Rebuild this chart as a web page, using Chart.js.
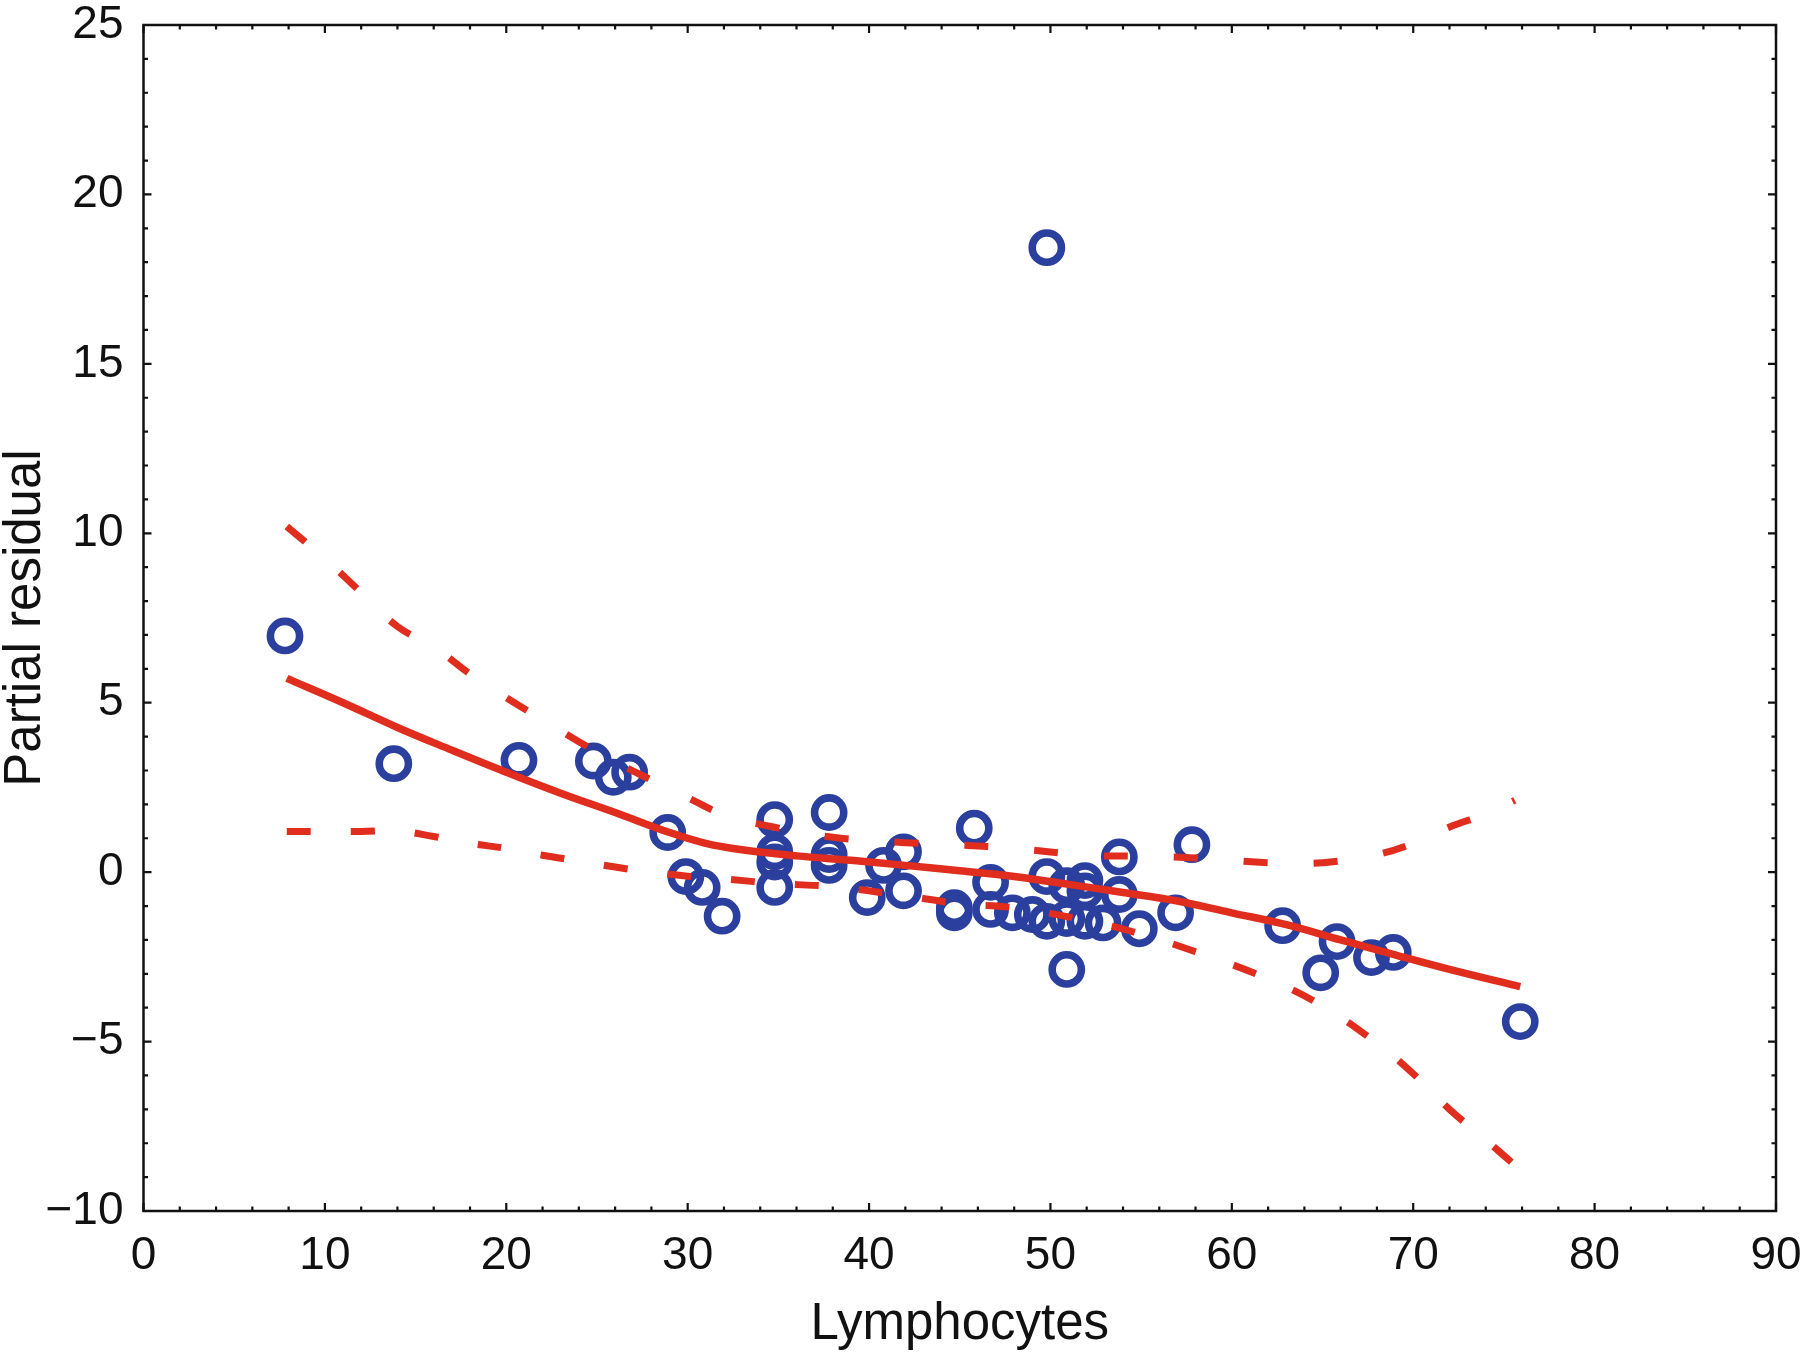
<!DOCTYPE html>
<html lang="en">
<head>
    <meta charset="UTF-8">
    <title>Partial residual vs Lymphocytes</title>
    <style>
        body {
            margin: 0;
            padding: 0;
            background: #fff;
        }
        #chart {
            display: block;
        }
    </style>
    <script src="https://cdn.jsdelivr.net/npm/chart.js"></script>
</head>
<body>
    <canvas id="chart" width="1800" height="1354"></canvas>
    <script>
        // observed partial residuals
        const pointX = [7.8, 13.8, 20.7, 24.8, 25.9, 26.8, 28.9, 29.9, 30.8, 31.9,
            34.8, 34.8, 34.8, 34.8, 37.8, 37.8, 37.8, 39.9, 40.8, 41.9, 41.9,
            44.7, 44.7, 45.8, 46.7, 46.7, 47.9, 49.0, 49.8, 49.8, 49.8,
            50.9, 50.9, 50.9, 51.9, 51.9, 51.9, 52.9, 53.8, 53.8, 54.9,
            56.9, 57.8, 62.8, 64.9, 65.8, 67.7, 68.9, 75.9];
        const pointY = [6.97, 3.2, 3.3, 3.28, 2.8, 2.95, 1.17, -0.13, -0.45, -1.3,
            1.55, 0.6, 0.3, -0.45, 1.76, 0.52, 0.2, -0.75, 0.2, 0.6, -0.55,
            -1.05, -1.2, 1.3, -0.3, -1.1, -1.2, -1.25, 18.43, -0.13, -1.45,
            -0.4, -1.37, -2.87, -0.25, -0.55, -1.45, -1.5, 0.45, -0.66, -1.67,
            -1.2, 0.81, -1.58, -2.97, -2.05, -2.52, -2.37, -4.41];

        // fitted curve
        const fitX = [7.9, 11, 14, 17, 20, 23, 26, 29, 31, 33, 36, 39, 42, 45, 48, 51, 54, 57, 60, 63, 66, 69, 72, 75.9];
        const fitY = [5.72, 5.0, 4.27, 3.6, 2.95, 2.33, 1.76, 1.17, 0.85, 0.66, 0.48, 0.35, 0.2, 0.04, -0.13, -0.36, -0.6, -0.85, -1.2, -1.55, -2.0, -2.44, -2.87, -3.38];

        // confidence band
        const bandX = [7.9, 10, 12, 14, 16, 18, 20, 22, 24, 26, 28, 30, 32, 35, 38, 42, 45, 48, 52, 55, 58, 62, 65, 68, 70, 72, 74, 75.6];
        const upperY = [10.2, 9.25, 8.25, 7.25, 6.65, 5.85, 5.15, 4.5, 3.85, 3.25, 2.72, 2.2, 1.7, 1.3, 1.03, 0.87, 0.8, 0.7, 0.5, 0.47, 0.42, 0.28, 0.28, 0.52, 0.85, 1.33, 1.72, 2.12];
        const lowerY = [1.2, 1.2, 1.2, 1.22, 1.05, 0.85, 0.7, 0.5, 0.33, 0.15, 0.0, -0.12, -0.2, -0.34, -0.43, -0.7, -0.93, -1.05, -1.43, -1.83, -2.35, -3.15, -3.95, -5.05, -5.95, -7.0, -7.9, -8.65];

        const xMin = 0, xMax = 90, xStep = 10, xMinor = 2;
        const yMin = -10, yMax = 25, yStep = 5, yMinor = 1;

        const blue = '#2b3f9e';
        const red = '#e02d1e';
        const fontFamily = '"Liberation Sans", Arial, Helvetica, sans-serif';

        function toXY(xs, ys) {
            return xs.map((x, i) => ({ x: x, y: ys[i] }));
        }

        // frame with inward ticks on all four sides
        const frameTicks = {
            id: 'frameTicks',
            afterDraw(chart) {
                const ctx = chart.ctx;
                const area = chart.chartArea;
                const xs = chart.scales.x;
                const ys = chart.scales.y;
                ctx.save();
                ctx.strokeStyle = '#111';
                ctx.lineWidth = 2.5;
                ctx.strokeRect(area.left, area.top, area.right - area.left, area.bottom - area.top);
                ctx.lineWidth = 2.2;
                ctx.beginPath();
                for (let v = xMin; v <= xMax + 1e-9; v += xMinor) {
                    const px = xs.getPixelForValue(v);
                    const len = (Math.abs(v % xStep) < 1e-9) ? 8 : 4.5;
                    ctx.moveTo(px, area.bottom);
                    ctx.lineTo(px, area.bottom - len);
                    ctx.moveTo(px, area.top);
                    ctx.lineTo(px, area.top + len);
                }
                for (let v = yMin; v <= yMax + 1e-9; v += yMinor) {
                    const py = ys.getPixelForValue(v);
                    const len = (Math.abs(v % yStep) < 1e-9) ? 8 : 4.5;
                    ctx.moveTo(area.left, py);
                    ctx.lineTo(area.left + len, py);
                    ctx.moveTo(area.right, py);
                    ctx.lineTo(area.right - len, py);
                }
                ctx.stroke();
                ctx.restore();
            }
        };

        new Chart(document.getElementById('chart').getContext('2d'), {
            type: 'scatter',
            data: {
                datasets: [
                    {
                        type: 'line',
                        data: toXY(fitX, fitY),
                        borderColor: red,
                        borderWidth: 7.5,
                        pointRadius: 0,
                        fill: false,
                        tension: 0.4,
                        order: 1
                    },
                    {
                        type: 'line',
                        data: toXY(bandX, upperY),
                        borderColor: red,
                        borderWidth: 7,
                        borderDash: [24, 46],
                        pointRadius: 0,
                        fill: false,
                        tension: 0.4,
                        order: 2
                    },
                    {
                        type: 'line',
                        data: toXY(bandX, lowerY),
                        borderColor: red,
                        borderWidth: 7,
                        borderDash: [24, 40],
                        pointRadius: 0,
                        fill: false,
                        tension: 0.4,
                        order: 3
                    },
                    {
                        data: toXY(pointX, pointY),
                        pointStyle: 'circle',
                        pointRadius: 14.6,
                        pointBorderWidth: 7.6,
                        borderColor: blue,
                        backgroundColor: 'rgba(0,0,0,0)',
                        order: 4
                    }
                ]
            },
            options: {
                responsive: false,
                devicePixelRatio: 1,
                animation: false,
                layout: { padding: { top: 25, right: 24, left: 0, bottom: 0 } },
                plugins: {
                    legend: { display: false },
                    tooltip: { enabled: false }
                },
                scales: {
                    x: {
                        type: 'linear',
                        min: xMin,
                        max: xMax,
                        grid: { display: false, drawTicks: false },
                        border: { display: false },
                        ticks: {
                            stepSize: xStep,
                            color: '#111',
                            padding: 18,
                            font: { family: fontFamily, size: 46 }
                        },
                        title: {
                            display: true,
                            text: 'Lymphocytes',
                            color: '#111',
                            font: { family: fontFamily, size: 51, lineHeight: 1 },
                            padding: { top: 0, bottom: 4 }
                        },
                        afterFit(axis) {
                            axis.height = 143;
                            axis.paddingLeft = 0;
                            axis.paddingRight = 0;
                        }
                    },
                    y: {
                        type: 'linear',
                        min: yMin,
                        max: yMax,
                        grid: { display: false, drawTicks: false },
                        border: { display: false },
                        ticks: {
                            stepSize: yStep,
                            color: '#111',
                            padding: 20,
                            font: { family: fontFamily, size: 46 },
                            callback: v => String(v).replace('-', '\u2212')
                        },
                        title: {
                            display: true,
                            text: 'Partial residual',
                            color: '#111',
                            font: { family: fontFamily, size: 51, lineHeight: 1 },
                            padding: { top: 0, bottom: 0 }
                        },
                        afterFit(axis) {
                            axis.width = 143.5;
                            axis.paddingTop = 0;
                            axis.paddingBottom = 0;
                        }
                    }
                }
            },
            plugins: [frameTicks]
        });
    </script>
</body>
</html>
